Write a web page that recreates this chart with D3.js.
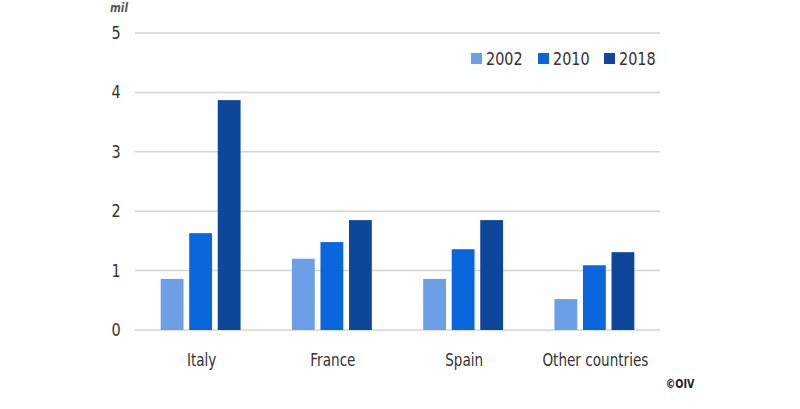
<!DOCTYPE html>
<html>
<head>
<meta charset="utf-8">
<script src="https://cdn.jsdelivr.net/npm/d3@7"></script>
<style>
  body { margin: 0; background: #fff; }
  svg { display: block; font-family: "DejaVu Sans", sans-serif; }
</style>
</head>
<body>
<div id="chart"></div>
<script>
var countries = ["Italy", "France", "Spain", "Other countries"];
var years = ["2002", "2010", "2018"];
var v2002 = [0.86, 1.2, 0.86, 0.52];
var v2010 = [1.63, 1.48, 1.36, 1.09];
var v2018 = [3.87, 1.85, 1.85, 1.31];
var yTicks = [0, 1, 2, 3, 4, 5];
var colors = ["#6c9fe6", "#0a66dc", "#0c479b"];

var width = 800, height = 409;
var squeeze = 0.8; // narrow look of the original font
var svg = d3.select("#chart").append("svg")
    .attr("width", width).attr("height", height);

var x = d3.scaleBand().domain(countries).range([135, 660]).paddingInner(0).paddingOuter(0);
var x1 = d3.scaleBand().domain(years).range([0, x.bandwidth()]).paddingInner(0.2).paddingOuter(0.9);
var y = d3.scaleLinear().domain([0, 5]).range([330, 33]);

function place(px, py) {
    return "translate(" + px + "," + py + ") scale(" + squeeze + ",1)";
}

// gridlines
svg.append("g").selectAll("line")
    .data(yTicks)
    .enter().append("line")
    .attr("x1", 135).attr("x2", 660)
    .attr("y1", function(d) { return y(d); })
    .attr("y2", function(d) { return y(d); })
    .attr("stroke", "#d4d4d4").attr("stroke-width", 1.5);

// y labels
svg.append("g").selectAll("text")
    .data(yTicks)
    .enter().append("text")
    .attr("transform", function(d) { return place(116, y(d) + 6); })
    .attr("text-anchor", "middle")
    .attr("font-size", 18)
    .attr("fill", "#333")
    .text(function(d) { return d; });

svg.append("text")
    .attr("transform", place(119, 12))
    .attr("text-anchor", "middle")
    .attr("font-size", 13).attr("font-style", "italic").attr("font-weight", "bold")
    .attr("fill", "#555")
    .text("mil");

var series = [v2002, v2010, v2018];
var rows = countries.map(function(c, i) {
    return { country: c, values: years.map(function(yr, j) { return { year: yr, value: series[j][i], color: colors[j] }; }) };
});

var groups = svg.append("g").selectAll("g")
    .data(rows)
    .enter().append("g")
    .attr("transform", function(d) { return "translate(" + x(d.country) + ",0)"; });

groups.selectAll("rect")
    .data(function(d) { return d.values; })
    .enter().append("rect")
    .attr("x", function(d) { return x1(d.year); })
    .attr("width", x1.bandwidth())
    .attr("y", function(d) { return y(d.value); })
    .attr("height", function(d) { return y(0) - y(d.value); })
    .attr("fill", function(d) { return d.color; });

// category labels
svg.append("g").selectAll("text")
    .data(countries)
    .enter().append("text")
    .attr("transform", function(d) { return place(x(d) + x.bandwidth() / 2 + 1, 366); })
    .attr("text-anchor", "middle")
    .attr("font-size", 17)
    .attr("fill", "#333")
    .text(function(d) { return d; });

// legend
var legendX = [471, 538, 604];
var legend = svg.append("g").selectAll("g")
    .data(years)
    .enter().append("g")
    .attr("transform", function(d, i) { return "translate(" + legendX[i] + ",53)"; });
legend.append("rect")
    .attr("width", 11).attr("height", 11)
    .attr("fill", function(d, i) { return colors[i]; });
legend.append("text")
    .attr("transform", place(15, 12))
    .attr("font-size", 18)
    .attr("fill", "#333")
    .text(function(d) { return d; });

svg.append("text")
    .attr("transform", place(680, 388))
    .attr("text-anchor", "middle")
    .attr("font-size", 12).attr("font-weight", "bold")
    .attr("fill", "#222")
    .text("©OIV");
</script>
</body>
</html>
